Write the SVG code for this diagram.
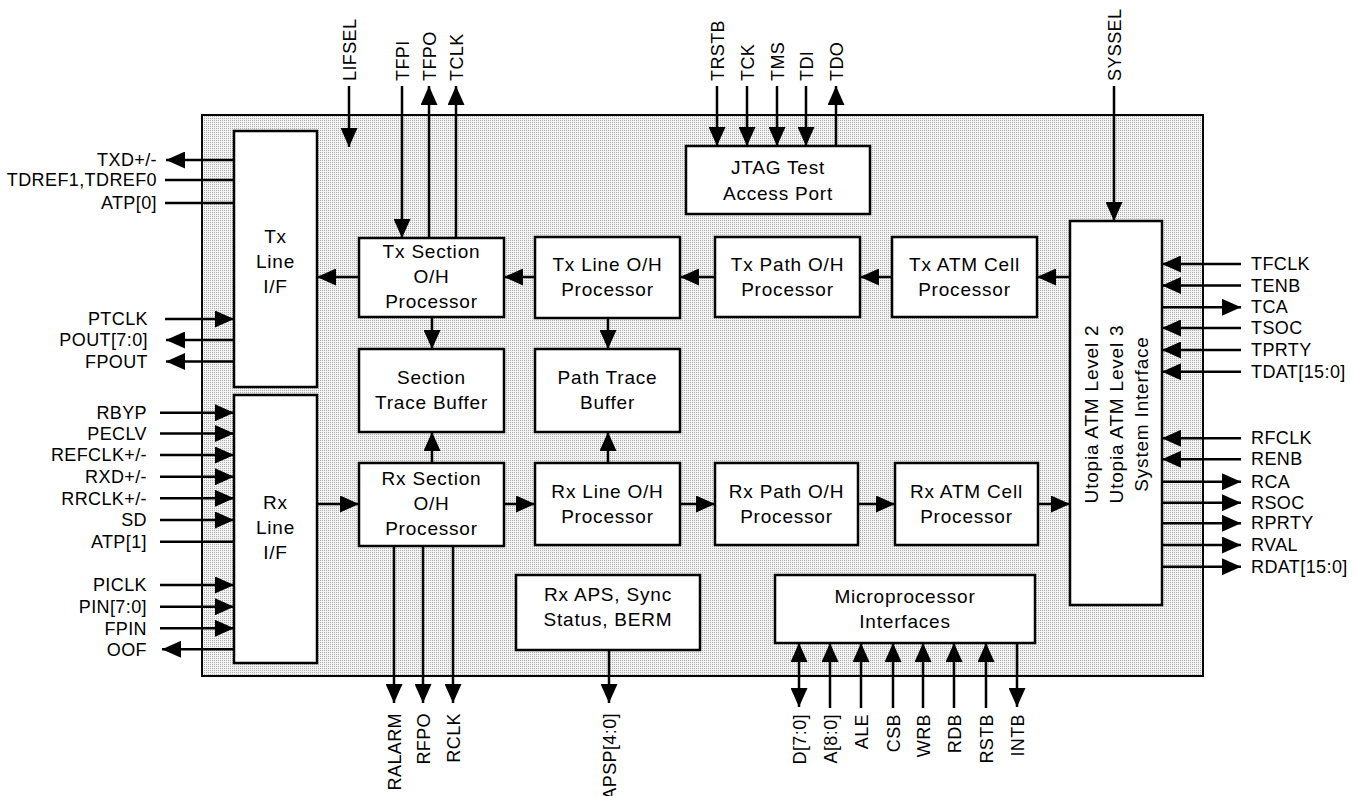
<svg xmlns="http://www.w3.org/2000/svg" width="1356" height="796" viewBox="0 0 1356 796">
<defs>
<pattern id="dots" width="2" height="2" patternUnits="userSpaceOnUse"><rect width="2" height="2" fill="#f2f2f2"/><rect width="1" height="1" fill="#b0b0b0"/></pattern>
<marker id="a" viewBox="0 0 19 17" markerWidth="19" markerHeight="17" refX="19" refY="8.5" orient="auto-start-reverse" markerUnits="userSpaceOnUse"><path d="M0,0L19,8.5L0,17z" fill="#000"/></marker>
<style>
.pin{font-family:"Liberation Sans",Arial,sans-serif;font-size:18px;letter-spacing:0.4px;fill:#000}
.e{text-anchor:end}
.bx{font-family:"Liberation Sans",Arial,sans-serif;font-size:19px;letter-spacing:0.8px;text-anchor:middle;fill:#000}
.box{fill:#fff;stroke:#000;stroke-width:2.5}
.w{stroke:#000;stroke-width:2.5;fill:none}
.ar{marker-end:url(#a)}
.ar2{marker-start:url(#a);marker-end:url(#a)}
</style>
</defs>
<rect width="1356" height="796" fill="#fff"/>
<g id="chip"><rect x="202" y="115" width="1001" height="561" fill="url(#dots)" stroke="#000" stroke-width="2"/></g>

<g id="connectors">
<!-- left Tx pins -->
<line class="w ar" x1="234" y1="160" x2="166" y2="160"/>
<line class="w" x1="165" y1="180" x2="234" y2="180"/>
<line class="w" x1="165" y1="203" x2="234" y2="203"/>
<line class="w ar" x1="165" y1="319" x2="234" y2="319"/>
<line class="w ar" x1="234" y1="340" x2="166" y2="340"/>
<line class="w ar" x1="234" y1="361.5" x2="166" y2="361.5"/>
<!-- left Rx pins -->
<line class="w ar" x1="160" y1="412.7" x2="234" y2="412.7"/>
<line class="w ar" x1="160" y1="433.5" x2="234" y2="433.5"/>
<line class="w ar" x1="160" y1="455" x2="234" y2="455"/>
<line class="w ar" x1="160" y1="476.7" x2="234" y2="476.7"/>
<line class="w ar" x1="160" y1="498.3" x2="234" y2="498.3"/>
<line class="w ar" x1="160" y1="520" x2="234" y2="520"/>
<line class="w" x1="160" y1="541.7" x2="234" y2="541.7"/>
<line class="w ar" x1="160" y1="585" x2="234" y2="585"/>
<line class="w ar" x1="160" y1="606.7" x2="234" y2="606.7"/>
<line class="w ar" x1="160" y1="628.3" x2="234" y2="628.3"/>
<line class="w ar" x1="234" y1="649.3" x2="162" y2="649.3"/>
<!-- top pins -->
<line class="w ar" x1="349" y1="86" x2="349" y2="147"/>
<line class="w ar" x1="402" y1="86" x2="402" y2="238"/>
<line class="w ar" x1="429" y1="238" x2="429" y2="86"/>
<line class="w ar" x1="456" y1="238" x2="456" y2="86"/>
<line class="w ar" x1="717" y1="86" x2="717" y2="146"/>
<line class="w ar" x1="747" y1="86" x2="747" y2="146"/>
<line class="w ar" x1="777" y1="86" x2="777" y2="146"/>
<line class="w ar" x1="806" y1="86" x2="806" y2="146"/>
<line class="w ar" x1="836" y1="146" x2="836" y2="86"/>
<line class="w ar" x1="1114" y1="86" x2="1114" y2="221"/>
<!-- right pins -->
<line class="w ar" x1="1241" y1="264" x2="1162" y2="264"/>
<line class="w ar" x1="1241" y1="285.5" x2="1162" y2="285.5"/>
<line class="w ar" x1="1162" y1="307.3" x2="1241" y2="307.3"/>
<line class="w ar" x1="1241" y1="328" x2="1162" y2="328"/>
<line class="w ar" x1="1241" y1="350" x2="1162" y2="350"/>
<line class="w ar" x1="1241" y1="371.7" x2="1162" y2="371.7"/>
<line class="w ar" x1="1241" y1="438.3" x2="1162" y2="438.3"/>
<line class="w ar" x1="1241" y1="459.3" x2="1162" y2="459.3"/>
<line class="w ar" x1="1162" y1="481.7" x2="1241" y2="481.7"/>
<line class="w ar" x1="1162" y1="502.7" x2="1241" y2="502.7"/>
<line class="w ar" x1="1162" y1="523.3" x2="1241" y2="523.3"/>
<line class="w ar" x1="1162" y1="545" x2="1241" y2="545"/>
<line class="w ar" x1="1162" y1="566.7" x2="1241" y2="566.7"/>
<!-- Tx datapath -->
<line class="w ar" x1="1070" y1="277" x2="1037" y2="277"/>
<line class="w ar" x1="892" y1="277" x2="860" y2="277"/>
<line class="w ar" x1="715" y1="277" x2="680" y2="277"/>
<line class="w ar" x1="535" y1="277" x2="504" y2="277"/>
<line class="w ar" x1="359" y1="277" x2="317" y2="277"/>
<line class="w ar" x1="432" y1="317" x2="432" y2="349"/>
<line class="w ar" x1="608" y1="318" x2="608" y2="349"/>
<!-- Rx datapath -->
<line class="w ar" x1="317" y1="504" x2="359" y2="504"/>
<line class="w ar" x1="504" y1="504" x2="535" y2="504"/>
<line class="w ar" x1="680" y1="504" x2="715" y2="504"/>
<line class="w ar" x1="858" y1="504" x2="895" y2="504"/>
<line class="w ar" x1="1038" y1="504" x2="1070" y2="504"/>
<line class="w ar" x1="432" y1="463" x2="432" y2="432"/>
<line class="w ar" x1="608" y1="463" x2="608" y2="432"/>
<!-- bottom pins -->
<line class="w ar" x1="394" y1="546" x2="394" y2="703"/>
<line class="w ar" x1="423" y1="546" x2="423" y2="703"/>
<line class="w ar" x1="453" y1="546" x2="453" y2="703"/>
<line class="w ar" x1="609" y1="650" x2="609" y2="703"/>
<line class="w ar2" x1="799" y1="707" x2="799" y2="643"/>
<line class="w ar" x1="830" y1="708" x2="830" y2="643"/>
<line class="w ar" x1="861" y1="708" x2="861" y2="643"/>
<line class="w ar" x1="893" y1="708" x2="893" y2="643"/>
<line class="w ar" x1="923" y1="708" x2="923" y2="643"/>
<line class="w ar" x1="954" y1="708" x2="954" y2="643"/>
<line class="w ar" x1="986" y1="708" x2="986" y2="643"/>
<line class="w ar" x1="1017" y1="643" x2="1017" y2="707"/>
</g>

<g id="pin-labels">
<text class="pin e" x="157" y="166">TXD+/-</text>
<text class="pin e" x="157" y="186">TDREF1,TDREF0</text>
<text class="pin e" x="157" y="209">ATP[0]</text>
<text class="pin e" x="148" y="325">PTCLK</text>
<text class="pin e" x="148" y="346">POUT[7:0]</text>
<text class="pin e" x="148" y="367.5">FPOUT</text>
<text class="pin e" x="147" y="419">RBYP</text>
<text class="pin e" x="147" y="440">PECLV</text>
<text class="pin e" x="147" y="461">REFCLK+/-</text>
<text class="pin e" x="147" y="483">RXD+/-</text>
<text class="pin e" x="147" y="504.5">RRCLK+/-</text>
<text class="pin e" x="147" y="526">SD</text>
<text class="pin e" x="147" y="548">ATP[1]</text>
<text class="pin e" x="147" y="591">PICLK</text>
<text class="pin e" x="147" y="613">PIN[7:0]</text>
<text class="pin e" x="147" y="634.5">FPIN</text>
<text class="pin e" x="147" y="655.5">OOF</text>

<text class="pin" x="1251" y="270">TFCLK</text>
<text class="pin" x="1251" y="291.5">TENB</text>
<text class="pin" x="1251" y="313.3">TCA</text>
<text class="pin" x="1251" y="334">TSOC</text>
<text class="pin" x="1251" y="356">TPRTY</text>
<text class="pin" x="1251" y="377.7">TDAT[15:0]</text>
<text class="pin" x="1251" y="444.3">RFCLK</text>
<text class="pin" x="1251" y="465.3">RENB</text>
<text class="pin" x="1251" y="487.7">RCA</text>
<text class="pin" x="1251" y="508.7">RSOC</text>
<text class="pin" x="1251" y="529.3">RPRTY</text>
<text class="pin" x="1251" y="551">RVAL</text>
<text class="pin" x="1251" y="572.7">RDAT[15:0]</text>

<text class="pin" transform="translate(355.5,81) rotate(-90)">LIFSEL</text>
<text class="pin" transform="translate(408.5,81) rotate(-90)">TFPI</text>
<text class="pin" transform="translate(435.5,81) rotate(-90)">TFPO</text>
<text class="pin" transform="translate(462.5,81) rotate(-90)">TCLK</text>
<text class="pin" transform="translate(723.5,81) rotate(-90)">TRSTB</text>
<text class="pin" transform="translate(753.5,81) rotate(-90)">TCK</text>
<text class="pin" transform="translate(783.5,81) rotate(-90)">TMS</text>
<text class="pin" transform="translate(812.5,81) rotate(-90)">TDI</text>
<text class="pin" transform="translate(842.5,81) rotate(-90)">TDO</text>
<text class="pin" transform="translate(1120.5,81) rotate(-90)">SYSSEL</text>

<text class="pin e" transform="translate(400.5,713) rotate(-90)">RALARM</text>
<text class="pin e" transform="translate(429.5,713) rotate(-90)">RFPO</text>
<text class="pin e" transform="translate(459.5,713) rotate(-90)">RCLK</text>
<text class="pin e" transform="translate(615.5,713) rotate(-90)">APSP[4:0]</text>
<text class="pin e" transform="translate(805.5,714) rotate(-90)">D[7:0]</text>
<text class="pin e" transform="translate(836.5,714) rotate(-90)">A[8:0]</text>
<text class="pin e" transform="translate(867.5,714) rotate(-90)">ALE</text>
<text class="pin e" transform="translate(899.5,714) rotate(-90)">CSB</text>
<text class="pin e" transform="translate(929.5,714) rotate(-90)">WRB</text>
<text class="pin e" transform="translate(960.5,714) rotate(-90)">RDB</text>
<text class="pin e" transform="translate(992.5,714) rotate(-90)">RSTB</text>
<text class="pin e" transform="translate(1023.5,714) rotate(-90)">INTB</text>
</g>

<g id="tx-line-if"><rect class="box" x="234" y="131" width="83" height="256"/>
<text class="bx" x="275.5" y="243">Tx</text><text class="bx" x="275.5" y="268">Line</text><text class="bx" x="275.5" y="293">I/F</text></g>
<g id="rx-line-if"><rect class="box" x="234" y="395" width="83" height="268"/>
<text class="bx" x="275.5" y="509">Rx</text><text class="bx" x="275.5" y="534">Line</text><text class="bx" x="275.5" y="559">I/F</text></g>
<g id="jtag"><rect class="box" x="686" y="146" width="184" height="68"/>
<text class="bx" x="778" y="173.5">JTAG Test</text><text class="bx" x="778" y="199.5">Access Port</text></g>
<g id="tx-section"><rect class="box" x="359" y="238" width="145" height="79"/>
<text class="bx" x="431.5" y="258">Tx Section</text><text class="bx" x="431.5" y="283">O/H</text><text class="bx" x="431.5" y="308">Processor</text></g>
<g id="tx-line"><rect class="box" x="535" y="237" width="145" height="81"/>
<text class="bx" x="607.5" y="271">Tx Line O/H</text><text class="bx" x="607.5" y="296">Processor</text></g>
<g id="tx-path"><rect class="box" x="715" y="237" width="145" height="80"/>
<text class="bx" x="787.5" y="271">Tx Path O/H</text><text class="bx" x="787.5" y="296">Processor</text></g>
<g id="tx-atm"><rect class="box" x="892" y="237" width="145" height="80"/>
<text class="bx" x="964.5" y="271">Tx ATM Cell</text><text class="bx" x="964.5" y="296">Processor</text></g>
<g id="section-trace"><rect class="box" x="359" y="349" width="145" height="83"/>
<text class="bx" x="431.5" y="384">Section</text><text class="bx" x="431.5" y="409">Trace Buffer</text></g>
<g id="path-trace"><rect class="box" x="535" y="349" width="145" height="83"/>
<text class="bx" x="607.5" y="384">Path Trace</text><text class="bx" x="607.5" y="409">Buffer</text></g>
<g id="rx-section"><rect class="box" x="359" y="463" width="145" height="83"/>
<text class="bx" x="431.5" y="485">Rx Section</text><text class="bx" x="431.5" y="510">O/H</text><text class="bx" x="431.5" y="535">Processor</text></g>
<g id="rx-line"><rect class="box" x="535" y="463" width="145" height="82"/>
<text class="bx" x="607.5" y="498">Rx Line O/H</text><text class="bx" x="607.5" y="523">Processor</text></g>
<g id="rx-path"><rect class="box" x="715" y="463" width="143" height="82"/>
<text class="bx" x="786.5" y="498">Rx Path O/H</text><text class="bx" x="786.5" y="523">Processor</text></g>
<g id="rx-atm"><rect class="box" x="895" y="463" width="143" height="82"/>
<text class="bx" x="966.5" y="498">Rx ATM Cell</text><text class="bx" x="966.5" y="523">Processor</text></g>
<g id="utopia"><rect class="box" x="1070" y="221" width="92" height="384"/>
<g transform="translate(1116,414) rotate(-90)">
<text class="bx" x="0" y="-18">Utopia ATM Level 2</text><text class="bx" x="0" y="7">Utopia ATM Level 3</text><text class="bx" x="0" y="32">System Interface</text></g></g>
<g id="rx-aps"><rect class="box" x="516" y="575" width="184" height="75"/>
<text class="bx" x="608" y="601">Rx APS, Sync</text><text class="bx" x="608" y="626">Status, BERM</text></g>
<g id="micro"><rect class="box" x="775" y="575" width="260" height="68"/>
<text class="bx" x="905" y="603">Microprocessor</text><text class="bx" x="905" y="628">Interfaces</text></g>
</svg>
